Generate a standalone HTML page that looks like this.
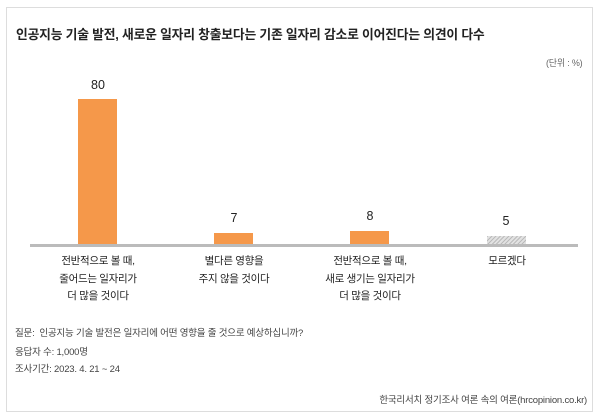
<!DOCTYPE html>
<html><head><meta charset="utf-8"><style>
body{margin:0;width:600px;height:419px;background:#fff;font-family:"Liberation Sans","Noto Sans CJK KR",sans-serif;position:relative;overflow:hidden;color:#222}
.f{position:absolute;left:6px;top:7px;width:587px;height:405px;border:1px solid #ddd;box-sizing:border-box}
.a{position:absolute;white-space:nowrap}
.bar{position:absolute;background:#f5984a}
.c{position:absolute;text-align:center;width:140px;font-size:10.5px;line-height:17.5px;color:#222;letter-spacing:-0.3px}
.v{position:absolute;text-align:center;width:60px;font-size:12.5px}
.s{font-size:9.5px;color:#444;letter-spacing:-0.2px}
</style></head><body>
<div class="f"></div>
<div class="a" style="left:16px;top:24px;font-size:12.8px;font-weight:bold;color:#222;letter-spacing:-0.2px">인공지능 기술 발전, 새로운 일자리 창출보다는 기존 일자리 감소로 이어진다는 의견이 다수</div>
<div class="a s" style="left:546px;top:56px;font-size:9px;color:#666">(단위 : %)</div>
<div style="position:absolute;left:30px;top:244px;width:548px;height:3px;background:#bbb"></div>
<div class="bar" style="left:78px;top:99px;width:39px;height:145px"></div>
<div class="bar" style="left:214px;top:233px;width:39px;height:11px"></div>
<div class="bar" style="left:350px;top:231px;width:39px;height:13px"></div>
<div style="position:absolute;left:487px;top:236px;width:39px;height:8px;background:repeating-linear-gradient(135deg,#bbb 0 1px,#e2e2e2 1px 3px)"></div>
<div class="v" style="left:68px;top:78px">80</div>
<div class="v" style="left:204px;top:211px">7</div>
<div class="v" style="left:340px;top:209px">8</div>
<div class="v" style="left:476px;top:214px">5</div>
<div class="c" style="left:28px;top:253px">전반적으로 볼 때,<br>줄어드는 일자리가<br>더 많을 것이다</div>
<div class="c" style="left:164px;top:253px">별다른 영향을<br>주지 않을 것이다</div>
<div class="c" style="left:300px;top:253px">전반적으로 볼 때,<br>새로 생기는 일자리가<br>더 많을 것이다</div>
<div class="c" style="left:437px;top:253px">모르겠다</div>
<div class="a s" style="left:15px;top:325px">질문:&nbsp; 인공지능 기술 발전은 일자리에 어떤 영향을 줄 것으로 예상하십니까?</div>
<div class="a s" style="left:15px;top:344px">응답자 수: 1,000명</div>
<div class="a s" style="left:15px;top:361px">조사기간: 2023. 4. 21 ~ 24</div>
<div class="a s" style="right:13px;top:392px">한국리서치 정기조사 여론 속의 여론(hrcopinion.co.kr)</div>
</body></html>
